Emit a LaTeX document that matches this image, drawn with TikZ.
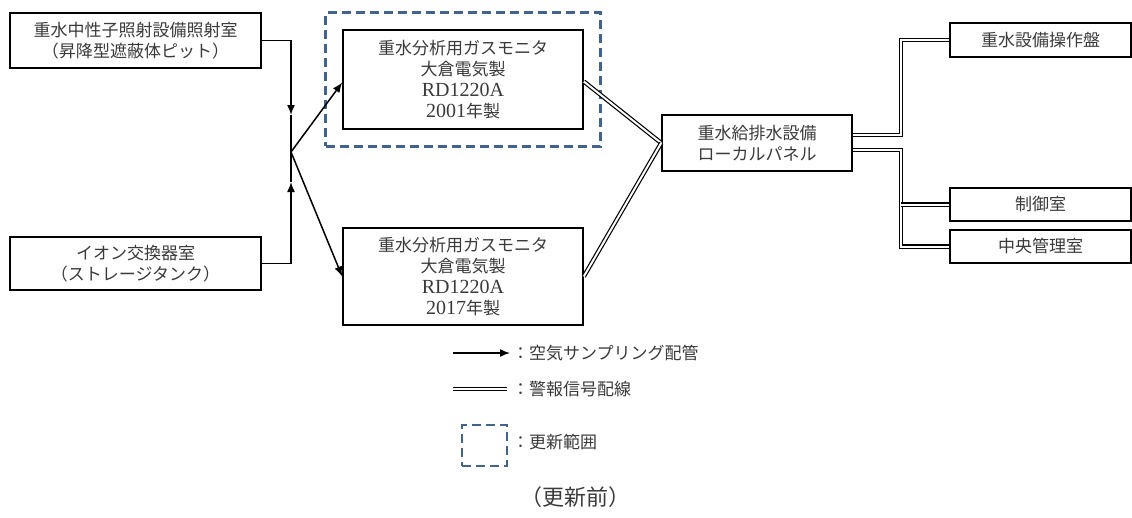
\documentclass[tikz,border=0pt]{standalone}
\usepackage{fontspec}
\setmainfont{Liberation Serif}
\newfontfamily\jp{Noto Sans CJK JP}
\usetikzlibrary{arrows.meta,fit}
\definecolor{txtgray}{HTML}{3A3A3A}
\definecolor{dashblue}{HTML}{40648F}
\newcommand{\ser}[1]{{\fontsize{20}{21}\selectfont\rmfamily #1}}
\begin{document}
\begin{tikzpicture}[x=1pt,y=-1pt,
  box/.style={draw=black, line width=1.6pt, inner sep=0pt, align=center, text=txtgray,
     font=\jp\fontsize{17}{21}\selectfont},
  arr/.style={-{Latex[length=10pt,width=8pt]}, line width=1.5pt},
  pipe/.style={line width=1.5pt},
  wire/.style={draw=black, double=white, double distance=2pt, line width=1.2pt},
  upd/.style={draw=dashblue, line width=2.8pt, dash pattern=on 9pt off 5pt},
  legtext/.style={anchor=west, inner sep=0pt, text=txtgray, font=\jp\fontsize{17}{21}\selectfont}]
\useasboundingbox (0,0) rectangle (1132,517);

% nodes
\node[box, minimum width=251pt, minimum height=55pt] (A) at (135.5,40.5)
  {重水中性子照射設備照射室\\（昇降型遮蔽体ピット）};
\node[box, minimum width=251pt, minimum height=53pt] (B) at (135.5,263.5)
  {イオン交換器室\\（ストレージタンク）};
\node[box, minimum width=240pt, minimum height=99pt] (M1) at (463,79.5)
  {重水分析用ガスモニタ\\大倉電気製\\\ser{RD1220A}\\\ser{2001}年製};
\node[box, minimum width=240pt, minimum height=97pt] (M2) at (463,276.5)
  {重水分析用ガスモニタ\\大倉電気製\\\ser{RD1220A}\\\ser{2017}年製};
\node[upd, fit=(M1), inner sep=16.5pt] (U) {};
\node[box, minimum width=190pt, minimum height=56pt] (P) at (757,143)
  {重水給排水設備\\ローカルパネル};
\node[box, minimum width=181pt, minimum height=34pt] (R1) at (1040.5,40) {重水設備操作盤};
\node[box, minimum width=181pt, minimum height=33pt] (R2) at (1040.5,204.5) {制御室};
\node[box, minimum width=181pt, minimum height=33pt] (R3) at (1040.5,246.5) {中央管理室};

% sampling pipes
\coordinate (J) at (291,152);
\coordinate (tA) at (291,115);
\coordinate (tB) at (291,182);
\draw[arr] (A.east) -| (tA);
\draw[pipe] (tA) -- (J);
\draw[arr] (B.east) -| (tB);
\draw[pipe] (tB) -- (J);
\draw[arr] (J) -- ([yshift=-3pt]M1.west);
\draw[arr] (J) -- (M2.west);

% alarm wires
\draw[wire] ([yshift=-2pt]M1.east) -- (P.west);
\draw[wire] (M2.east) -- (P.west);
\coordinate (b1) at (901,0);
\draw[wire] ([yshift=8pt]P.east) -| (b1 |- R1.west) -- (R1.west);
\draw[wire] ([yshift=-7pt]P.east) -| (b1 |- R3.west) -- (R3.west);
\draw[wire] (b1 |- R2.west) -- (R2.west);

% legend
\coordinate (l1a) at (453,353);
\coordinate (l1b) at (510,353);
\draw[arr] (l1a) -- (l1b);
\node[legtext] (t1) at (512,353) {：空気サンプリング配管};
\coordinate (l2a) at (453,389);
\coordinate (l2b) at (507,389);
\draw[wire] (l2a) -- (l2b);
\node[legtext] (t2) at (512,389) {：警報信号配線};
\node[upd, minimum width=45pt, minimum height=41pt, inner sep=0pt] (lsq) at (484.5,445.5) {};
\node[legtext] (t3) at (512,442) {：更新範囲};
\node[inner sep=0pt, text=txtgray, font=\jp\fontsize{22}{26}\selectfont] (cap) at (575,497) {（更新前）};
\end{tikzpicture}
\end{document}
